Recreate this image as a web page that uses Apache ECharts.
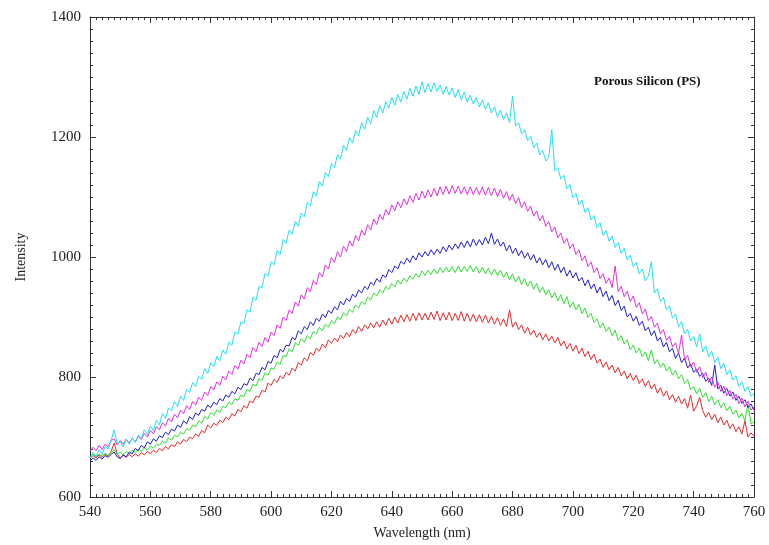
<!DOCTYPE html>
<html>
<head>
<meta charset="utf-8">
<script src="https://cdn.jsdelivr.net/npm/echarts@6/dist/echarts.min.js"></script>
<style>html,body{margin:0;padding:0;background:#fff}#c{width:769px;height:545px}</style>
</head>
<body>
<div id="c"></div>
<script>
// Wavelength grid 540..760 nm, 1 nm step
var wavelengths = [];
for (var w = 540; w <= 760; w++) wavelengths.push(w);

var xTicks = [540, 560, 580, 600, 620, 640, 660, 680, 700, 720, 740, 760];
var yTicks = [600, 800, 1000, 1200, 1400];

var cyan = [
665,674,668,679,671,684,680,694,712,690,
692,684,696,688,699,691,703,697,712,704,
718,711,728,720,739,731,748,744,759,751,
768,761,779,774,791,784,801,796,814,806,
824,817,834,827,845,838,858,853,875,871,
892,889,912,908,933,928,951,949,973,968,
992,987,1011,1004,1029,1023,1045,1038,1059,1051,
1073,1067,1091,1085,1109,1102,1126,1118,1141,1134,
1156,1149,1171,1163,1186,1178,1199,1190,1211,1202,
1224,1213,1233,1222,1244,1233,1252,1240,1259,1248,
1266,1253,1271,1258,1276,1263,1281,1268,1285,1271,
1292,1274,1289,1275,1290,1276,1287,1271,1284,1270,
1282,1266,1279,1262,1275,1258,1270,1255,1266,1250,
1262,1246,1257,1240,1250,1234,1245,1229,1240,1224,
1268,1218,1224,1205,1212,1194,1201,1182,1190,1170,
1178,1160,1166,1212,1144,1149,1130,1136,1114,1121,
1099,1106,1087,1095,1074,1082,1062,1069,1049,1057,
1036,1044,1026,1035,1016,1024,1006,1014,995,1003,
984,991,972,980,960,968,992,940,947,926,
933,912,919,898,905,884,892,872,880,860,
868,850,872,842,852,834,843,824,833,814,
823,804,812,795,802,784,792,776,784,768,
772];

var magenta = [
676,683,677,686,679,688,684,694,697,687,
694,688,696,690,698,692,701,696,706,700,
711,705,717,712,724,718,731,725,738,732,
745,739,752,746,759,753,766,761,775,769,
784,778,792,786,801,795,810,804,819,813,
828,822,838,832,849,842,858,851,866,858,
875,869,887,881,900,894,912,906,925,918,
937,930,949,942,961,954,974,967,987,980,
999,991,1009,1000,1018,1009,1027,1018,1036,1027,
1045,1036,1054,1045,1063,1054,1071,1062,1079,1070,
1087,1077,1092,1082,1097,1087,1102,1091,1106,1095,
1110,1098,1112,1100,1114,1102,1117,1104,1118,1105,
1119,1106,1118,1105,1117,1104,1117,1104,1116,1104,
1117,1103,1116,1102,1115,1101,1113,1098,1109,1094,
1105,1089,1099,1082,1092,1076,1085,1068,1077,1060,
1069,1051,1059,1042,1050,1032,1040,1023,1031,1014,
1022,1004,1012,994,1002,984,992,974,982,964,
972,956,965,949,985,942,951,934,943,926,
935,916,924,905,913,894,901,883,890,872,
879,861,868,850,857,839,870,828,836,817,
825,808,817,799,808,791,800,783,792,776,
785,769,778,763,771,756,765,750,760,745,
750];

var blue = [
660,665,661,667,663,669,666,671,675,667,
664,670,667,675,672,681,677,686,682,692,
688,697,693,702,699,708,704,713,710,720,
716,727,722,734,729,740,736,746,743,753,
749,758,754,764,760,770,766,776,772,783,
779,789,786,798,794,806,804,816,812,826,
823,836,832,846,842,853,852,866,862,877,
872,884,879,892,886,898,893,905,899,911,
906,917,912,926,920,931,926,938,933,945,
940,951,946,958,953,964,958,970,966,979,
974,985,980,993,988,998,991,1002,995,1007,
1000,1009,1002,1012,1004,1013,1006,1017,1009,1020,
1012,1022,1014,1025,1016,1027,1017,1030,1019,1029,
1020,1033,1022,1040,1021,1030,1018,1025,1010,1020,
1006,1015,1002,1011,998,1007,995,1004,990,999,
987,996,982,992,978,988,974,983,968,978,
965,974,960,966,952,962,947,955,940,950,
934,943,927,936,919,928,911,918,900,906,
893,901,886,893,877,883,869,877,860,866,
850,858,842,848,831,840,824,832,815,822,
808,813,801,806,793,798,786,820,780,786,
773,781,768,775,761,768,756,762,749,755,
745];

var green = [
666,671,667,672,668,673,669,674,679,671,
675,670,676,672,678,674,680,676,682,678,
685,681,688,686,693,690,698,695,703,700,
708,705,714,711,720,717,727,723,734,730,
741,736,745,741,751,749,758,754,764,761,
770,767,779,776,788,785,797,794,807,803,
815,813,825,821,836,834,847,842,857,853,
864,858,869,864,876,872,883,877,888,883,
894,889,900,896,907,902,913,908,920,915,
926,921,933,928,940,935,945,940,951,946,
956,950,961,955,965,959,969,963,972,966,
977,969,978,971,980,972,982,974,983,975,
984,974,985,975,984,976,986,975,984,973,
983,972,981,970,980,969,978,966,975,962,
972,958,968,954,964,951,960,946,956,941,
950,937,946,932,941,927,937,922,934,916,
925,912,921,906,915,899,906,891,897,882,
890,876,883,869,878,861,869,855,862,845,
853,840,848,834,842,827,845,822,829,816,
823,810,817,803,811,797,804,789,796,779,
784,772,781,766,774,759,768,754,762,749,
757,744,751,738,745,732,739,727,755,722,
725];

var red = [
664,669,665,670,666,671,668,676,690,672,
665,670,666,671,667,672,668,674,670,676,
672,678,674,681,677,684,680,687,684,692,
688,696,692,700,697,705,701,711,707,720,
715,723,719,728,724,733,729,739,735,746,
742,752,748,760,757,768,766,778,775,790,
786,796,791,802,797,808,803,815,810,824,
820,832,827,841,836,848,843,855,849,862,
856,865,859,870,864,874,867,879,872,884,
876,887,880,890,882,892,883,895,886,898,
888,900,890,903,892,904,893,906,894,907,
895,906,895,908,896,910,894,907,895,908,
894,906,894,909,893,906,893,905,892,904,
891,903,890,901,888,899,886,897,884,912,
883,892,879,887,873,883,870,878,866,874,
862,872,860,868,857,866,852,860,847,856,
843,853,839,848,834,843,829,838,823,830,
816,825,812,820,807,816,802,810,797,806,
794,803,789,797,784,794,780,788,773,782,
768,777,762,771,758,768,755,764,748,770,
743,752,766,744,733,741,729,738,724,733,
720,728,714,722,709,717,705,727,700,707,
701];

var seriesNames = ['Red', 'Green', 'Blue', 'Magenta', 'Cyan'];
var seriesData = [red, green, blue, magenta, cyan];
var seriesColors = ['#e82a2a', '#2ee02e', '#2020c8', '#e030e0', '#22e0f0'];

var FONT = 'Liberation Serif';
var chart = echarts.init(document.getElementById('c'), null, {renderer: 'canvas'});

function plain(v) { return String(v); }

function xAxisDef(pos, showLabel) {
  return {
    type: 'value', position: pos, min: xTicks[0], max: xTicks[xTicks.length - 1], interval: 20,
    axisLine: {show: true, onZero: false, lineStyle: {color: '#333', width: 1}},
    axisTick: {show: true, inside: true, length: 6, lineStyle: {color: '#333'}},
    minorTick: {show: true, splitNumber: 10, length: 3, lineStyle: {color: '#333'}},
    splitLine: {show: false},
    axisLabel: {show: showLabel, fontFamily: FONT, fontSize: 15, color: '#222', margin: 8, formatter: plain},
    name: showLabel ? 'Wavelength (nm)' : '',
    nameLocation: 'middle', nameGap: 29,
    nameTextStyle: {fontFamily: FONT, fontSize: 14, color: '#222'}
  };
}
function yAxisDef(pos, showLabel) {
  return {
    type: 'value', position: pos, min: yTicks[0], max: yTicks[yTicks.length - 1], interval: 200,
    axisLine: {show: true, onZero: false, lineStyle: {color: '#333', width: 1}},
    axisTick: {show: true, inside: true, length: 6, lineStyle: {color: '#333'}},
    minorTick: {show: true, splitNumber: 10, length: 3, lineStyle: {color: '#333'}},
    splitLine: {show: false},
    axisLabel: {show: showLabel, fontFamily: FONT, fontSize: 15, color: '#222', margin: 9, formatter: plain},
    name: showLabel ? 'Intensity' : '',
    nameLocation: 'middle', nameGap: 62,
    nameTextStyle: {fontFamily: FONT, fontSize: 14, color: '#222'}
  };
}

chart.setOption({
  animation: false,
  backgroundColor: '#fff',
  title: {
    text: 'Porous Silicon (PS)', left: 589, top: 70,
    textStyle: {fontFamily: FONT, fontSize: 13, fontWeight: 'bold', color: '#111'}
  },
  grid: {left: 90, right: 15, top: 17, bottom: 48},
  xAxis: [xAxisDef('bottom', true), xAxisDef('top', false)],
  yAxis: [yAxisDef('left', true), yAxisDef('right', false)],
  series: seriesData.map(function (arr, k) {
    return {
      name: seriesNames[k], type: 'line', xAxisIndex: 0, yAxisIndex: 0,
      showSymbol: false, symbol: 'none',
      lineStyle: {width: 1, color: seriesColors[k]},
      itemStyle: {color: seriesColors[k]},
      data: arr.map(function (v, i) { return [wavelengths[i], v]; })
    };
  })
});
</script>
</body>
</html>
